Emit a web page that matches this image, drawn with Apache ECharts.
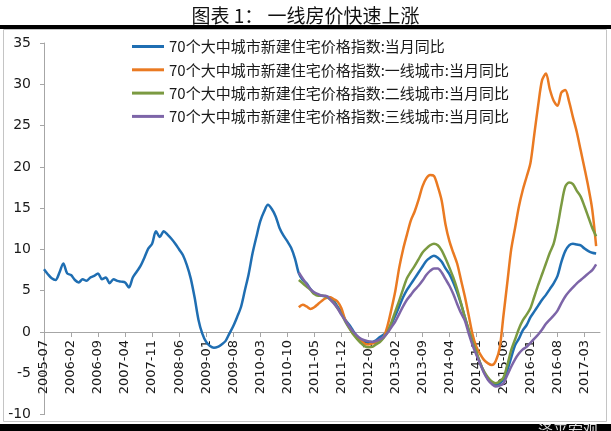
<!DOCTYPE html>
<html lang="zh-CN">
  <head>
    <meta charset="UTF-8" />
    <title>一线房价快速上涨</title>
    <style>
      body { margin: 0; padding: 0; background: #fff; }
      #container { width: 611px; height: 431px; }
    </style>
  </head>
  <body>
    <div id="container"></div>
    <script src="https://cdn.jsdelivr.net/npm/echarts@6/dist/echarts.min.js"></script>
    <script>
      // 月份：2005-07 起，逐月到 2017-07
      const startYear = 2005, startMonth = 7, monthCount = 145;
      const months = [];
      for (let k = 0; k < monthCount; k++) {
        const m = startMonth - 1 + k;
        const y = startYear + Math.floor(m / 12);
        months.push(y + "-" + String((m % 12) + 1).padStart(2, "0"));
      }

      const seriesNames = [
        "70个大中城市新建住宅价格指数:当月同比",
        "70个大中城市新建住宅价格指数:一线城市:当月同比",
        "70个大中城市新建住宅价格指数:二线城市:当月同比",
        "70个大中城市新建住宅价格指数:三线城市:当月同比",
      ];

      // 70城 当月同比 (2005-07 起)
      const all70 = [
        7.6, 7.0, 6.5, 6.3, 7.2, 8.3, 7.1, 6.9, 6.3, 6.0,
        6.4, 6.2, 6.6, 6.8, 7.1, 6.4, 6.6, 5.9, 6.4, 6.2,
        6.1, 6.0, 5.4, 6.6, 7.3, 8.0, 9.0, 10.1, 10.7, 12.2,
        11.5, 12.2, 11.8, 11.3, 10.7, 10.0, 9.3, 8.1, 6.5, 4.2,
        1.5, -0.2, -1.2, -1.7, -1.9, -1.8, -1.5, -1.1, -0.2, 0.7,
        1.8, 3.0, 5.0, 7.0, 9.5, 11.5, 13.4, 14.6, 15.4, 14.9,
        14.0, 12.6, 11.7, 11.0, 10.2, 8.9, 7.1, 6.3, 5.9, 5.2,
        4.7, 4.5, 4.4, 4.3, 4.2, 3.8, 3.1, 2.4, 1.5, 0.9,
        0.2, -0.5, -0.9, -1.1, -1.2, -1.2, -1.0, -0.6, -0.3, 0.1,
        1.0, 2.0, 3.1, 4.2, 5.1, 5.8, 6.5, 7.2, 7.9, 8.6,
        9.0, 9.25, 9.0, 8.5, 7.7, 7.0, 6.0, 4.8, 3.4, 1.8,
        0.2, -1.1, -2.6, -3.8, -4.9, -5.7, -6.2, -6.4, -6.2, -5.7,
        -4.6, -3.1, -1.6, -0.8, 0.2, 0.85, 1.8, 2.5, 3.2, 3.9,
        4.5, 5.2, 5.9, 6.8, 8.5, 9.8, 10.5, 10.7, 10.6, 10.5,
        10.1, 9.8, 9.6, 9.5,
      ];

      // 分线城市数据从 2011-01 开始
      const tierStart = "2011-01";
      const tier1 = [
        3.0, 3.3, 3.1, 2.8, 3.0, 3.4, 3.8, 4.1, 4.2, 4.0,
        3.7, 2.9, 1.5, 0.6, -0.2, -0.6, -1.0, -1.4, -1.5, -1.4,
        -1.3, -1.0, -0.6, 0.8, 2.8, 5.0, 7.8, 10.0, 11.8, 13.5,
        14.6, 16.0, 17.6, 18.6, 19.0, 18.9, 17.6, 15.9, 13.0, 11.0,
        9.6, 8.3, 6.3, 4.3, 2.0, -0.3, -1.8, -2.7, -3.4, -3.8,
        -4.0, -3.5, -2.0, 2.0, 6.0, 10.0, 12.6, 15.2, 17.2, 18.8,
        20.5, 24.0, 27.5, 30.5, 31.3, 29.4, 28.0, 27.4, 29.0, 29.3,
        27.9, 26.0, 24.2, 22.0, 19.8, 17.5, 14.8, 10.4,
      ];
      const tier2 = [
        6.3, 5.9, 5.5, 5.1, 4.6, 4.4, 4.4, 4.3, 4.0, 3.6,
        2.9, 2.2, 1.3, 0.5, -0.2, -0.8, -1.3, -1.7, -1.85, -1.8,
        -1.5, -1.2, -0.7, 0.0, 1.2, 2.5, 3.8, 5.2, 6.5, 7.3,
        8.0, 8.8, 9.6, 10.1, 10.5, 10.7, 10.5, 9.9, 8.9, 7.8,
        6.6, 5.2, 3.5, 1.8, 0.3, -1.2, -2.4, -3.8, -4.8, -5.5,
        -6.0, -6.2, -6.0, -5.5, -4.0, -2.2, -0.9, 0.4, 1.4, 2.1,
        2.9, 4.3, 5.7, 7.0, 8.3, 9.6, 10.7, 12.8, 15.4, 17.6,
        18.1, 17.9, 17.1, 16.4, 15.2, 13.9, 12.6, 11.6,
      ];
      const tier3 = [
        7.2, 6.5, 5.8, 5.2, 4.8, 4.6, 4.4, 4.4, 4.0, 3.5,
        2.9, 2.1, 1.4, 0.7, 0.1, -0.4, -0.8, -1.0, -1.1, -1.2,
        -1.1, -0.9, -0.6, -0.1, 0.6, 1.3, 2.2, 3.1, 3.9, 4.5,
        5.1, 5.6, 6.2, 6.9, 7.4, 7.7, 7.7, 7.2, 6.4, 5.6,
        4.6, 3.4, 2.3, 1.4, -0.2, -1.6, -2.8, -3.9, -5.0, -5.8,
        -6.3, -6.6, -6.5, -6.2, -5.2, -4.2, -3.3, -2.6, -2.1, -1.8,
        -1.3, -0.8, -0.3, 0.3, 1.0, 1.5, 2.0, 2.6, 3.5, 4.3,
        4.9, 5.4, 5.9, 6.3, 6.7, 7.1, 7.5, 8.2,
      ];

      const yMin = -10, yMax = 35, yStep = 5;
      const colors = ["#1f6eb2", "#ea7a22", "#7b9a41", "#7d65a8"];

      const offset = months.indexOf(tierStart);
      const pad = (arr) => new Array(offset).fill(null).concat(arr);

      // 横轴画在 0 的位置（标签也跟着），用 offset 上移
      const gridTop = 43, gridBottom = 16.4, chartH = 431;
      const plotH = chartH - gridTop - gridBottom;
      const zeroOffset = -((0 - yMin) / (yMax - yMin)) * plotH;

      const chart = echarts.init(document.getElementById("container"));

      const makeSeries = (name, data, color) => ({
        name: name,
        type: "line",
        data: data,
        smooth: 0.3,
        showSymbol: false,
        connectNulls: false,
        lineStyle: { width: 2.5, color: color },
        itemStyle: { color: color },
      });

      chart.setOption({
        animation: false,
        title: {
          text: "图表 1： 一线房价快速上涨",
          left: "center",
          top: 1,
          textStyle: {
            fontFamily: "Noto Sans CJK SC",
            fontSize: 19,
            fontWeight: "normal",
            color: "#111",
          },
        },
        legend: {
          orient: "vertical",
          left: 127,
          top: 34,
          itemWidth: 32,
          itemHeight: 3,
          itemGap: 8.3,
          icon: "rect",
          textStyle: {
            fontFamily: "Noto Sans CJK SC",
            fontSize: 15,
            color: "#1a1a1a",
          },
          data: seriesNames,
        },
        grid: {
          left: 44,
          right: 11,
          top: gridTop,
          bottom: gridBottom,
          outerBoundsMode: "none",
          containLabel: false,
        },
        xAxis: {
          type: "category",
          data: months,
          boundaryGap: false,
          offset: zeroOffset,
          axisLine: { onZero: false, lineStyle: { color: "#a6a6a6", width: 1 } },
          axisTick: { interval: 6, length: 5, lineStyle: { color: "#a6a6a6" } },
          axisLabel: {
            interval: 6,
            rotate: 90,
            margin: 8,
            fontFamily: "DejaVu Sans",
            fontSize: 13,
            color: "#1a1a1a",
          },
          splitLine: { show: false },
        },
        yAxis: {
          type: "value",
          min: yMin,
          max: yMax,
          interval: yStep,
          axisLine: { show: true, lineStyle: { color: "#a6a6a6", width: 1 } },
          axisTick: { show: true, length: 4, lineStyle: { color: "#a6a6a6" } },
          axisLabel: {
            margin: 13,
            fontFamily: "DejaVu Sans",
            fontSize: 14,
            color: "#1a1a1a",
          },
          splitLine: { show: false },
        },
        graphic: [
          { type: "rect", shape: { x: 0, y: 25, width: 611, height: 4 }, style: { fill: "#000" } },
          {
            type: "rect",
            shape: { x: 3.5, y: 29.5, width: 603, height: 392 },
            style: { fill: "none", stroke: "#c4c4c4", lineWidth: 1 },
            silent: true,
          },
          { type: "rect", shape: { x: 0, y: 424, width: 611, height: 7 }, style: { fill: "#000" } },
          {
            type: "text",
            left: 538,
            top: 423,
            style: { text: "泽平宏观", fill: "#d8d8d8", fontSize: 15, fontFamily: "Noto Sans CJK SC" },
          },
        ],
        series: [
          makeSeries(seriesNames[0], all70, colors[0]),
          makeSeries(seriesNames[1], pad(tier1), colors[1]),
          makeSeries(seriesNames[2], pad(tier2), colors[2]),
          makeSeries(seriesNames[3], pad(tier3), colors[3]),
        ],
      });
    </script>
  </body>
</html>
